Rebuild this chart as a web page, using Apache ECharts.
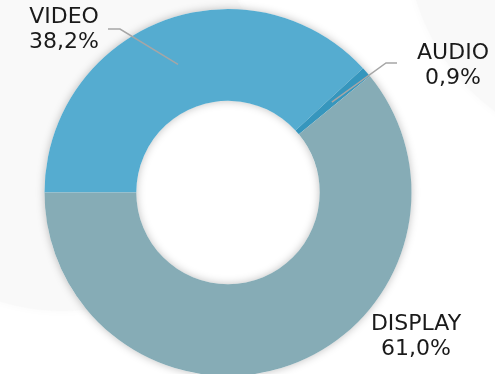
<!DOCTYPE html>
<html>
<head>
<meta charset="utf-8">
<script src="https://cdn.jsdelivr.net/npm/echarts@6/dist/echarts.min.js"></script>
<style>
  html, body { margin: 0; padding: 0; background: #ffffff; }
  #chart { width: 495px; height: 374px; }
</style>
</head>
<body>
<div id="chart"></div>
<script>
// Share of ad spend by format (percent)
const categories = ['VIDEO', 'AUDIO', 'DISPLAY'];
const shares = [38.2, 0.9, 61.0];
const colors = ['#55acd0', '#3696bd', '#86acb6'];

// Label anchors (text block centre) and leader-line elbow / end points
const labelAnchors = [[64, 30], [453, 65.5], [416, 337]];
const leaderElbows = [[[120, 29], [108, 29]], [[386, 63], [397, 63]], null];

const CX = 228, CY = 192.5, R_IN = 91.7, R_OUT = 183.5;
const START = 180; // degrees, echarts convention (counter-clockwise from 3 o'clock)

const total = shares.reduce((a, b) => a + b, 0);

// point in the middle of the ring at the middle angle of slice i
function sliceMidPoint(i) {
  let cum = 0;
  for (let k = 0; k < i; k++) cum += shares[k];
  const fromTop = (90 - START) + 360 * (cum + shares[i] / 2) / total; // clockwise from 12 o'clock
  const a = fromTop * Math.PI / 180;
  const rm = (R_IN + R_OUT) / 2;
  return [CX + rm * Math.sin(a), CY - rm * Math.cos(a)];
}

// leader lines from the middle of each labelled slice to its label
const leaderLines = [];
categories.forEach((c, i) => {
  if (!leaderElbows[i]) return;
  leaderLines.push({
    type: 'polyline', z: 10,
    shape: { points: [sliceMidPoint(i), leaderElbows[i][0], leaderElbows[i][1]] },
    style: { stroke: '#a6a6a6', lineWidth: 1.5, fill: null }
  });
});

const chart = echarts.init(document.getElementById('chart'), null, { renderer: 'canvas' });

chart.setOption({
  backgroundColor: '#ffffff',
  animation: false,
  graphic: [
    // faint backdrop shapes
    { type: 'circle', z: 0, shape: { cx: 62, cy: 106, r: 205 },
      style: { fill: '#f9f9f9', shadowBlur: 10, shadowColor: '#f9f9f9' } },
    { type: 'circle', z: 0, shape: { cx: 622, cy: -62, r: 215 },
      style: { fill: '#f9f9f9', shadowBlur: 10, shadowColor: '#f9f9f9' } },
    // white donut hole
    { type: 'circle', z: 1, shape: { cx: CX, cy: CY, r: R_IN + 2 },
      style: { fill: '#ffffff' } },
    // ring casting the soft shadow under the slices
    { type: 'ring', z: 2, shape: { cx: CX, cy: CY, r: R_OUT, r0: R_IN },
      style: { fill: '#ffffff', shadowBlur: 8, shadowColor: 'rgba(0,0,0,0.25)' } }
  ].concat(leaderLines),
  series: [{
    type: 'pie',
    z: 3,
    center: [CX, CY],
    radius: [R_IN, R_OUT],
    startAngle: START,
    clockwise: true,
    avoidLabelOverlap: false,
    silent: true,
    data: categories.map((name, i) => ({
      name: name,
      value: shares[i],
      itemStyle: { color: colors[i] }
    })),
    itemStyle: { borderWidth: 0 },
    label: {
      show: true,
      position: 'outside',
      fontFamily: 'DejaVu Sans',
      fontSize: 22,
      lineHeight: 25,
      color: '#1a1a1a',
      align: 'center',
      formatter: p => p.name + '\n' + shares[p.dataIndex].toFixed(1).replace('.', ',') + '%'
    },
    labelLine: { show: false },
    labelLayout: function (params) {
      const i = params.dataIndex;
      return {
        x: labelAnchors[i][0],
        y: labelAnchors[i][1],
        align: 'center',
        verticalAlign: 'middle'
      };
    }
  }]
});
</script>
</body>
</html>
